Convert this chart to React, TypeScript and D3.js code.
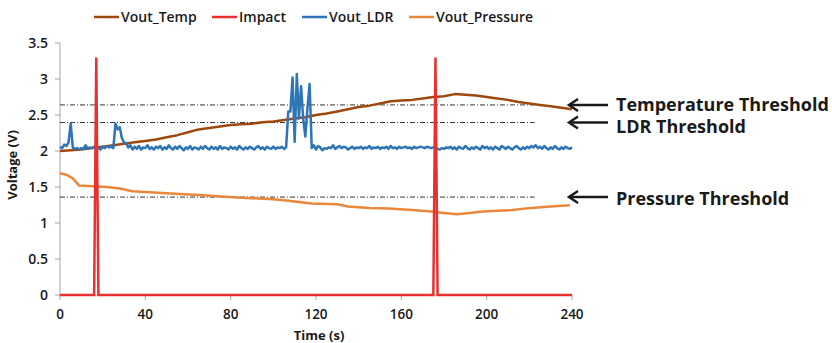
import * as d3 from 'd3'
import { useEffect } from 'react'

const W = 832, H = 343
const M = { top: 43, right: 260, bottom: 48, left: 60 }

const seriesNames = ['Vout_Temp', 'Impact', 'Vout_LDR', 'Vout_Pressure']
const seriesColors = ['#9E480E', '#E8312F', '#2E75B6', '#E9873A']

const xTicks = [0, 40, 80, 120, 160, 200, 240]
const yTicks = [0, 0.5, 1, 1.5, 2, 2.5, 3, 3.5]

// temperature output, read every 5 s
const tempT = [0, 5, 10, 15, 20, 25, 30, 35, 40, 45, 50, 55, 60, 65, 70, 75, 80, 85, 90, 95, 100, 105, 110, 115, 120, 125, 130, 135, 140, 145, 150, 155, 160, 165, 170, 175, 180, 185, 190, 195, 200, 205, 210, 215, 220, 225, 230, 235, 240]
const tempV = [2.0, 2.01, 2.02, 2.04, 2.06, 2.08, 2.1, 2.12, 2.14, 2.16, 2.19, 2.22, 2.26, 2.3, 2.32, 2.34, 2.36, 2.37, 2.38, 2.4, 2.41, 2.43, 2.45, 2.47, 2.5, 2.52, 2.55, 2.58, 2.61, 2.63, 2.66, 2.69, 2.7, 2.71, 2.73, 2.75, 2.76, 2.79, 2.78, 2.77, 2.75, 2.73, 2.71, 2.68, 2.66, 2.64, 2.62, 2.6, 2.58]

// impact sensor: flat with two short pulses
const impactT = [0, 16, 17, 18, 175, 176, 177, 240]
const impactV = [0, 0, 3.3, 0, 0, 3.3, 0, 0]

// LDR output, one reading per second from t = 0
const ldrV = [
  2.06, 2.04, 2.09, 2.07, 2.12, 2.38, 2.05, 2.03, 2.04, 2.02, 2.04, 2.03, 2.08, 2.03, 2.05, 2.04, 2.06, 2.08, 2.04, 2.02,
  2.06, 2.04, 2.07, 2.05, 2.06, 2.04, 2.38, 2.3, 2.33, 2.18, 2.12, 2.11, 2.05, 2.08, 2.02, 2.06, 2.03, 2.07, 2.02, 2.05,
  2.04, 2.08, 2.03, 2.05, 2.02, 2.06, 2.04, 2.07, 2.02, 2.05, 2.03, 2.08, 2.04, 2.02, 2.06, 2.03, 2.07, 2.04, 2.01, 2.05,
  2.03, 2.07, 2.02, 2.05, 2.04, 2.02, 2.06, 2.03, 2.07, 2.04, 2.02, 2.06, 2.03, 2.05, 2.02, 2.07, 2.03, 2.05, 2.04, 2.02,
  2.06, 2.03, 2.05, 2.02, 2.07, 2.04, 2.02, 2.05, 2.03, 2.06, 2.04, 2.02, 2.05, 2.07, 2.03, 2.05, 2.02, 2.06, 2.04, 2.03,
  2.06, 2.03, 2.05, 2.04, 2.06, 2.03, 2.05, 2.55, 2.55, 3.02, 2.13, 3.07, 2.45, 2.9, 2.45, 2.2, 2.6, 2.93, 2.04, 2.08,
  2.02, 2.07, 2.05, 2.01, 2.04, 2.03, 2.05, 2.04, 2.08, 2.03, 2.05, 2.07, 2.04, 2.06, 2.05, 2.02, 2.04, 2.06, 2.03, 2.05,
  2.04, 2.06, 2.03, 2.05, 2.04, 2.07, 2.03, 2.05, 2.04, 2.06, 2.03, 2.05, 2.04, 2.06, 2.03, 2.07, 2.04, 2.05, 2.03, 2.06,
  2.04, 2.05, 2.06, 2.04, 2.05, 2.03, 2.06, 2.04, 2.05, 2.06, 2.05, 2.04, 2.06, 2.05, 2.04, 2.05, 2.06, 2.03, 2.02, 2.04,
  2.03, 2.05, 2.04, 2.06, 2.03, 2.05, 2.02, 2.06, 2.04, 2.03, 2.07, 2.04, 2.02, 2.05, 2.03, 2.06, 2.04, 2.02, 2.07, 2.04,
  2.06, 2.03, 2.05, 2.02, 2.06, 2.04, 2.02, 2.07, 2.05, 2.03, 2.06, 2.04, 2.02, 2.05, 2.07, 2.04, 2.02, 2.05, 2.03, 2.06,
  2.04, 2.07, 2.05, 2.08, 2.04, 2.06, 2.03, 2.07, 2.04, 2.02, 2.05, 2.03, 2.07, 2.04, 2.02, 2.05, 2.03, 2.06, 2.04, 2.03,
  2.05,
]

// pressure output
const presT = [0, 3, 6, 9, 15, 22, 28, 34, 40, 52, 65, 85, 100, 107, 118, 130, 135, 145, 154, 165, 174, 180, 186, 192, 198, 205, 212, 221, 230, 239]
const presV = [1.69, 1.67, 1.62, 1.52, 1.51, 1.5, 1.48, 1.44, 1.43, 1.41, 1.39, 1.35, 1.33, 1.31, 1.27, 1.26, 1.23, 1.21, 1.2, 1.18, 1.16, 1.14, 1.12, 1.14, 1.16, 1.17, 1.18, 1.21, 1.23, 1.245]

// thresholds
const thrNames = ['Temperature Threshold', 'LDR Threshold', 'Pressure Threshold']
const thrV = [2.64, 2.395, 1.36]
const thrEnd = 222.5
const thrLabelDy = [1, 5, 3]

const FONT = '"Open Sans", "Noto Sans", sans-serif'

export default function App() {
  useEffect(() => {
    document.body.style.margin = '0'
  }, [])

  const x = d3.scaleLinear().domain([0, 240]).range([M.left, W - M.right])
  const y = d3.scaleLinear().domain([0, 3.5]).range([H - M.bottom, M.top])
  const line = d3.line<[number, number]>().x(d => x(d[0])).y(d => y(d[1]))

  const temp = tempT.map((t, i) => [t, tempV[i]] as [number, number])
  const impact = impactT.map((t, i) => [t, impactV[i]] as [number, number])
  const ldr = ldrV.map((v, i) => [i, v] as [number, number])
  const pres = presT.map((t, i) => [t, presV[i]] as [number, number])

  const legendX = [94, 212, 302, 409]
  const x0 = x(0), x1 = x(240), y0 = y(0)

  return (
    <svg width={W} height={H} style={{ position: 'absolute', left: 0, top: 0, background: '#fff' }} fontFamily={FONT}>
      {/* legend */}
      {seriesNames.map((n, i) => (
        <g key={n} transform={`translate(${legendX[i]},17)`}>
          <line x1={0} x2={25} y1={0} y2={0} stroke={seriesColors[i]} strokeWidth={2.5} />
          <text x={27} y={5} fontSize={14} fontWeight={600} fill="#1a1a1a">{n}</text>
        </g>
      ))}

      {/* y axis */}
      <line x1={x0} x2={x0} y1={y(3.5)} y2={y0} stroke="#a6a6a6" />
      {yTicks.map(t => (
        <g key={t}>
          <line x1={x0 - 5} x2={x0} y1={y(t)} y2={y(t)} stroke="#a6a6a6" />
          <text x={x0 - 12} y={y(t) + 5} textAnchor="end" fontSize={14} fontWeight={600} fill="#1a1a1a">{t}</text>
        </g>
      ))}
      {/* x axis */}
      <line x1={x0} x2={x1} y1={y0} y2={y0} stroke="#a6a6a6" />
      {xTicks.map(t => (
        <g key={t}>
          <line x1={x(t)} x2={x(t)} y1={y0} y2={y0 + 5} stroke="#a6a6a6" />
          <text x={x(t)} y={y0 + 24} textAnchor="middle" fontSize={13.5} fontWeight={600} fill="#1a1a1a">{t}</text>
        </g>
      ))}
      <text x={(x0 + x1) / 2 + 3} y={H - 3} textAnchor="middle" fontSize={13} fontWeight={700} fill="#1a1a1a">Time (s)</text>
      <text transform={`translate(17,${(y(3.5) + y0) / 2 - 4}) rotate(-90)`} textAnchor="middle" fontSize={13} fontWeight={700} fill="#1a1a1a">Voltage (V)</text>

      {/* thresholds */}
      {thrV.map(v => (
        <line key={v} x1={x0} x2={x(thrEnd)} y1={y(v)} y2={y(v)} stroke="#333" strokeWidth={1} strokeDasharray="5,2,1,2" />
      ))}

      {/* series */}
      <path d={line(pres) ?? ''} fill="none" stroke={seriesColors[3]} strokeWidth={2.5} strokeLinejoin="round" />
      <path d={line(temp) ?? ''} fill="none" stroke={seriesColors[0]} strokeWidth={2.5} strokeLinejoin="round" />
      <path d={line(ldr) ?? ''} fill="none" stroke={seriesColors[2]} strokeWidth={2.5} strokeLinejoin="round" />
      <path d={line(impact) ?? ''} fill="none" stroke={seriesColors[1]} strokeWidth={2.5} strokeLinejoin="miter" />

      {/* threshold annotations */}
      {thrNames.map((n, i) => {
        const yy = y(thrV[i])
        return (
          <g key={n}>
            <line x1={569} x2={608} y1={yy} y2={yy} stroke="#1a1a1a" strokeWidth={2.5} />
            <path d={`M578,${yy - 6} L569,${yy} L578,${yy + 6}`} fill="none" stroke="#1a1a1a" strokeWidth={2.5} />
            <text x={616} y={yy + thrLabelDy[i] + 5} fontSize={18} fontWeight={700} fill="#1a1a1a">{n}</text>
          </g>
        )
      })}
    </svg>
  )
}
